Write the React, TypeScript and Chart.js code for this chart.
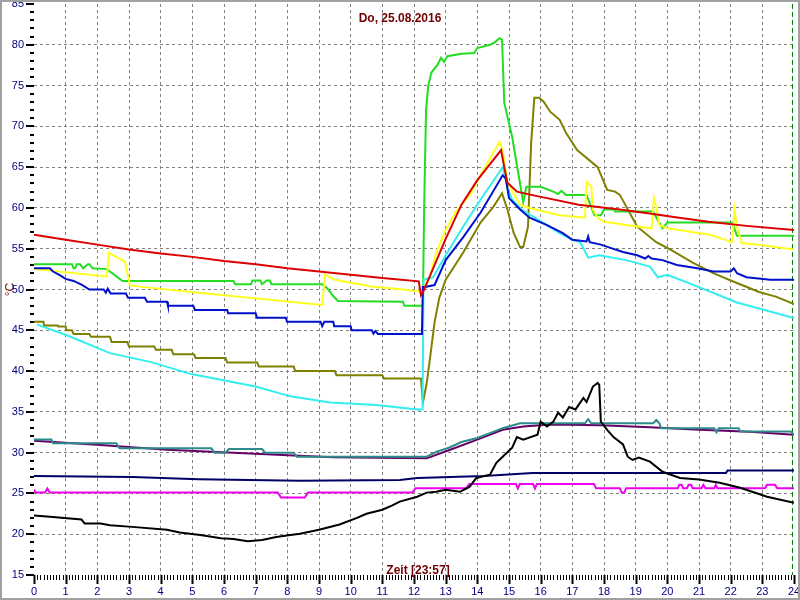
import React, { useEffect, useRef } from "react";
import { Chart, registerables } from "chart.js";

Chart.register(...registerables);

const TITLE = "Do, 25.08.2016";
const X_TITLE = "Zeit [23:57]";
const Y_TITLE = "°C";
const NOW_HOUR = 23.95;
const Y_MIN = 15;
const Y_MAX = 85;
const X_MIN = 0;
const X_MAX = 24;

// ---- series (hour of day, temperature °C) ----
const blackH = [0, 0.5, 1.5, 1.6, 2.1, 2.4, 3.1, 4.2, 4.6, 5.25, 5.9, 6.3, 6.75, 7.2, 7.65, 8.1, 8.4, 9.0, 9.65, 10.2, 10.5, 11.0, 11.3, 11.55, 12.1, 12.4, 12.7, 13.0, 13.45, 13.75, 13.97, 14.4, 14.6, 14.8, 15.1, 15.25, 15.45, 15.9, 16.0, 16.2, 16.4, 16.55, 16.7, 16.9, 17.1, 17.35, 17.45, 17.65, 17.8, 17.85, 17.9, 18.1, 18.3, 18.6, 18.75, 18.9, 19.1, 19.45, 19.85, 20.4, 21.0, 21.65, 22.3, 23.15, 24];
const blackT = [22.3, 22.15, 21.8, 21.3, 21.3, 21.1, 20.9, 20.55, 20.2, 19.9, 19.5, 19.4, 19.15, 19.3, 19.65, 19.9, 20.05, 20.55, 21.2, 22.0, 22.5, 23.0, 23.5, 24.0, 24.6, 25.1, 25.2, 25.45, 25.2, 25.8, 26.9, 27.3, 28.75, 29.5, 30.6, 31.9, 31.6, 32.2, 33.8, 33.2, 33.8, 34.9, 34.3, 35.6, 35.3, 36.7, 36.2, 38.1, 38.55, 38.3, 33.8, 32.8, 31.9, 31.0, 29.5, 29.1, 29.4, 28.9, 27.65, 26.9, 26.7, 26.3, 25.7, 24.6, 23.85];

const magentaH = [0, 0.05, 0.35, 0.42, 0.5, 7.7, 7.8, 8.55, 8.65, 11.95, 12.05, 13.65, 13.75, 15.22, 15.28, 15.34, 15.76, 15.82, 15.88, 17.68, 17.75, 18.5, 18.56, 18.64, 18.7, 20.33, 20.38, 20.45, 20.5, 20.62, 20.67, 20.75, 20.8, 21.08, 21.14, 21.2, 21.48, 21.53, 21.58, 23.08, 23.15, 23.4, 23.47, 24];
const magentaT = [25.5, 25.1, 25.1, 25.6, 25.1, 25.1, 24.5, 24.5, 25.1, 25.1, 25.65, 25.65, 26.15, 26.15, 25.6, 26.15, 26.15, 25.6, 26.15, 26.15, 25.65, 25.65, 25.1, 25.1, 25.65, 25.65, 26.05, 26.05, 25.65, 25.65, 26.05, 26.05, 25.65, 25.65, 26.05, 25.65, 25.65, 26.05, 25.65, 25.65, 26.05, 26.05, 25.65, 25.65];

const navyH = [0, 3.1, 5.2, 8.4, 11.55, 12.1, 14.2, 15.75, 21.85, 21.9, 24];
const navyT = [27.15, 27.0, 26.75, 26.55, 26.65, 26.9, 27.15, 27.5, 27.5, 27.8, 27.8];

const purpleH = [0, 2.1, 4.2, 6.3, 7.85, 9.45, 12.4, 13.1, 14.0, 14.8, 15.45, 16.3, 17.9, 19.45, 21.0, 22.6, 24];
const purpleT = [31.45, 30.95, 30.35, 30.0, 29.7, 29.45, 29.3, 30.3, 31.6, 32.8, 33.2, 33.45, 33.35, 33.1, 32.8, 32.55, 32.2];

const tealH = [0, 0.55, 0.6, 2.6, 2.7, 5.6, 5.7, 6.05, 6.15, 7.2, 7.3, 8.2, 8.3, 12.4, 12.7, 13.1, 13.5, 14.0, 14.4, 14.8, 15.35, 17.4, 17.5, 17.6, 19.55, 19.65, 19.75, 19.8, 21.48, 21.55, 21.62, 22.25, 22.3, 23.9, 24];
const tealT = [31.6, 31.6, 31.15, 31.15, 30.55, 30.55, 30.0, 30.0, 30.45, 30.45, 30.0, 30.0, 29.5, 29.5, 30.1, 30.6, 31.3, 31.8, 32.4, 33.0, 33.6, 33.6, 34.1, 33.6, 33.6, 34.0, 33.6, 33.0, 33.0, 32.5, 33.0, 33.0, 32.6, 32.6, 32.2];

const oliveH = [0, 0.3, 0.32, 0.75, 0.77, 1.0, 1.02, 1.2, 1.25, 1.75, 1.8, 2.4, 2.45, 2.95, 3.0, 3.8, 3.85, 4.35, 4.4, 5.05, 5.1, 6.05, 6.1, 7.05, 7.1, 8.2, 8.25, 9.5, 9.55, 11.0, 11.05, 12.22, 12.28, 12.4, 12.5, 12.65, 12.8, 13.0, 13.55, 14.1, 14.5, 14.78, 14.95, 15.15, 15.35, 15.45, 15.6, 15.7, 15.8, 15.95, 16.1, 16.3, 16.6, 16.8, 16.9, 17.15, 17.8, 18.1, 18.35, 18.5, 19.05, 19.65, 20.1, 20.8, 21.45, 22.1, 22.9, 23.45, 24];
const oliveT = [46.05, 46.05, 45.6, 45.6, 45.45, 45.45, 45.0, 45.0, 44.55, 44.55, 44.2, 44.2, 43.55, 43.55, 43.0, 43.0, 42.6, 42.6, 42.05, 42.05, 41.6, 41.6, 41.05, 41.05, 40.55, 40.55, 40.0, 40.0, 39.5, 39.5, 39.1, 39.1, 36.1, 38.5, 41.4, 46.0, 49.0, 51.2, 54.5, 58.2, 60.1, 61.8, 59.8, 56.9, 55.2, 55.2, 57.7, 68.0, 73.5, 73.5, 73.0, 71.8, 70.8, 69.2, 68.6, 67.1, 65.0, 62.2, 62.0, 61.6, 57.7, 55.8, 54.9, 53.3, 52.0, 50.95, 49.7, 49.1, 48.2];

const cyanH = [0.1, 1.0, 2.4, 3.7, 5.0, 7.0, 8.1, 9.35, 10.8, 12.2, 12.27, 12.3, 12.6, 13.05, 13.55, 14.1, 14.8, 14.97, 15.1, 15.4, 16.2, 16.6, 17.0, 17.25, 17.5, 17.85, 18.7, 19.45, 19.7, 20.0, 20.8, 22.2, 24];
const cyanT = [45.7, 44.45, 42.2, 41.1, 39.6, 38.1, 36.9, 36.15, 35.85, 35.25, 35.3, 51.2, 51.5, 54.5, 57.7, 61.0, 65.0, 62.2, 61.0, 59.8, 57.9, 56.9, 56.1, 55.8, 53.9, 54.2, 53.6, 52.8, 51.5, 51.8, 50.6, 48.4, 46.5];

const blueH = [0, 0.5, 0.6, 0.8, 1.0, 1.25, 1.5, 1.75, 2.2, 2.27, 2.33, 2.42, 2.9, 2.97, 3.5, 3.57, 4.2, 4.23, 5.03, 5.08, 6.1, 6.13, 7.0, 7.04, 7.95, 7.99, 9.05, 9.1, 9.17, 9.45, 9.48, 10.0, 10.03, 10.67, 10.72, 10.78, 10.86, 12.25, 12.28, 12.35, 12.65, 13.0, 13.55, 14.1, 14.8, 14.9, 15.0, 15.35, 15.65, 16.2, 16.7, 17.0, 17.45, 17.5, 17.55, 17.9, 18.2, 18.6, 19.05, 19.3, 19.4, 19.5, 19.85, 20.3, 20.95, 21.45, 22.0, 22.1, 22.2, 22.5, 23.25, 24];
const blueT = [52.6, 52.6, 52.2, 51.8, 51.3, 51.05, 50.6, 50.0, 50.0, 49.6, 50.1, 49.5, 49.5, 49.0, 49.0, 48.5, 48.5, 48.0, 48.0, 47.5, 47.5, 47.1, 47.1, 46.55, 46.55, 46.05, 46.05, 45.5, 46.05, 46.05, 45.5, 45.5, 45.0, 45.0, 44.6, 44.9, 44.55, 44.55, 50.3, 50.3, 50.55, 53.6, 56.4, 59.4, 64.0, 63.6, 61.2, 59.8, 58.8, 57.9, 56.9, 56.1, 55.9, 56.5, 55.8, 55.5, 55.1, 54.6, 54.2, 53.8, 54.1, 53.8, 53.6, 53.0, 52.6, 52.2, 52.2, 52.6, 52.0, 51.5, 51.2, 51.2];

const yellowH = [0, 2.3, 2.37, 2.87, 3.03, 3.7, 5.2, 9.1, 9.2, 9.5, 10.7, 11.65, 12.2, 12.3, 12.5, 12.7, 13.0, 13.3, 13.8, 14.2, 14.7, 14.8, 14.95, 15.35, 15.65, 16.6, 17.4, 17.45, 17.6, 17.65, 17.8, 18.0, 18.7, 19.5, 19.58, 19.68, 19.75, 20.0, 21.35, 22.05, 22.12, 22.2, 22.35, 22.9, 24];
const yellowT = [52.5, 51.6, 54.5, 53.4, 50.5, 50.2, 49.6, 48.1, 51.8, 51.2, 50.35, 50.0, 49.75, 50.3, 51.5, 54.5, 57.3, 59.4, 61.8, 64.7, 68.1, 67.1, 63.1, 60.4, 60.0, 59.1, 58.8, 63.2, 62.6, 59.8, 58.8, 58.3, 57.9, 57.5, 61.2, 59.5, 57.9, 57.5, 56.7, 55.8, 59.8, 57.7, 55.7, 55.5, 54.9];

const greenH = [0, 1.2, 1.25, 1.3, 1.35, 1.45, 1.55, 1.7, 1.75, 1.85, 2.3, 2.8, 6.3, 6.35, 6.85, 6.9, 7.15, 7.2, 7.35, 7.45, 7.5, 9.1, 9.25, 9.45, 9.6, 11.65, 11.7, 12.25, 12.28, 12.32, 12.38, 12.45, 12.55, 12.75, 12.85, 12.95, 13.05, 13.5, 13.9, 14.0, 14.4, 14.55, 14.7, 14.78, 14.85, 15.1, 15.4, 15.45, 15.55, 16.0, 16.4, 16.55, 16.65, 16.8, 17.45, 17.55, 17.7, 17.9, 18.0, 18.3, 18.35, 19.55, 19.7, 19.85, 20.0, 22.05, 22.2, 24];
const greenT = [53.1, 53.1, 52.6, 52.6, 53.1, 53.1, 52.6, 53.1, 53.1, 52.6, 52.5, 51.05, 51.05, 50.65, 50.65, 51.1, 51.1, 50.65, 51.1, 51.1, 50.65, 50.65, 50.2, 49.2, 48.6, 48.5, 48.0, 48.0, 48.0, 60.0, 72.0, 75.0, 76.6, 77.6, 78.4, 77.9, 78.6, 78.9, 79.0, 79.6, 80.0, 80.3, 80.8, 80.6, 72.9, 68.7, 61.8, 60.7, 62.6, 62.6, 62.0, 61.7, 62.1, 61.6, 61.6, 60.6, 59.1, 59.1, 59.8, 59.8, 59.55, 59.55, 58.5, 57.5, 58.2, 58.2, 56.6, 56.6];

const redH = [0, 1, 2, 3, 4, 5, 6, 7, 8, 9, 10, 11, 12.15, 12.22, 12.3, 13.0, 13.5, 14.0, 14.75, 14.85, 14.95, 15.25, 15.7, 16.2, 17.2, 18.5, 19.5, 20.2, 21.3, 22.5, 24];
const redT = [56.7, 56.1, 55.5, 54.9, 54.4, 54.0, 53.5, 53.1, 52.6, 52.2, 51.8, 51.4, 51.0, 49.3, 49.8, 56.2, 60.4, 63.4, 67.1, 65.0, 63.1, 62.0, 61.6, 61.2, 60.4, 59.8, 59.3, 58.9, 58.3, 57.8, 57.3];

// first entry is drawn on top
const SERIES = [
  { name: "black", h: blackH, t: blackT, color: "#000000" },
  { name: "magenta", h: magentaH, t: magentaT, color: "#ee00ee" },
  { name: "navy", h: navyH, t: navyT, color: "#000066" },
  { name: "teal", h: tealH, t: tealT, color: "#2e8b8b" },
  { name: "purple", h: purpleH, t: purpleT, color: "#660066" },
  { name: "red", h: redH, t: redT, color: "#dd0000" },
  { name: "blue", h: blueH, t: blueT, color: "#0010cc" },
  { name: "cyan", h: cyanH, t: cyanT, color: "#33eeee" },
  { name: "yellow", h: yellowH, t: yellowT, color: "#ffff20" },
  { name: "green", h: greenH, t: greenT, color: "#22dd22" },
  { name: "olive", h: oliveH, t: oliveT, color: "#808000" },
];

const FONT_FAMILY = '"Liberation Sans", Arial, sans-serif';

const decorPlugin = {
  id: "decor",
  beforeDraw(chart: any) {
    const { ctx, width, height } = chart;
    ctx.save();
    ctx.fillStyle = "#ffffff";
    ctx.fillRect(0, 0, width, height);
    ctx.restore();
  },
  beforeDatasetsDraw(chart: any) {
    const { ctx, chartArea, scales } = chart;
    const px = Math.round(scales.x.getPixelForValue(NOW_HOUR)) + 0.5;
    ctx.save();
    ctx.strokeStyle = "#008000";
    ctx.lineWidth = 1;
    ctx.setLineDash([5, 3]);
    ctx.beginPath();
    ctx.moveTo(px, chartArea.top);
    ctx.lineTo(px, chartArea.bottom);
    ctx.stroke();
    ctx.restore();
  },
  afterDraw(chart: any) {
    const { ctx, chartArea, scales, width, height } = chart;
    const xs = scales.x;
    const ys = scales.y;
    ctx.save();
    ctx.strokeStyle = "#000000";
    // y tick marks
    for (let v = Y_MIN; v <= Y_MAX; v++) {
      const py = Math.round(ys.getPixelForValue(v));
      const major = v % 5 === 0;
      ctx.lineWidth = 2;
      ctx.beginPath();
      ctx.moveTo(chartArea.left - (major ? 8 : 4), py);
      ctx.lineTo(chartArea.left, py);
      ctx.stroke();
    }
    // x tick marks
    for (let i = X_MIN * 10; i <= X_MAX * 10; i++) {
      const v = i / 10;
      const major = i % 10 === 0;
      const px = Math.round(xs.getPixelForValue(v)) + 0.5;
      ctx.lineWidth = major ? 2 : 1;
      ctx.beginPath();
      ctx.moveTo(px, chartArea.bottom);
      ctx.lineTo(px, chartArea.bottom + (major ? 9 : 5));
      ctx.stroke();
    }
    // titles
    ctx.fillStyle = "#700000";
    ctx.textAlign = "center";
    ctx.textBaseline = "alphabetic";
    ctx.font = "bold 12px " + FONT_FAMILY;
    ctx.fillText(TITLE, width / 2, 22);
    ctx.fillText(X_TITLE, 418, 574);
    // frame
    ctx.strokeStyle = "#a0a0a0";
    ctx.lineWidth = 2;
    ctx.strokeRect(1, 1, width - 2, height - 2);
    ctx.restore();
  },
};

export default function App() {
  const canvasRef = useRef<HTMLCanvasElement | null>(null);

  useEffect(() => {
    const canvas = canvasRef.current;
    if (!canvas) return;
    const datasets = SERIES.map((s) => ({
      label: s.name,
      data: s.h.map((x, i) => ({ x, y: s.t[i] })),
      borderColor: s.color,
      backgroundColor: s.color,
      borderWidth: 2,
      pointRadius: 0,
      tension: 0,
      fill: false,
    }));
    const chart = new Chart(canvas, {
      type: "line",
      data: { datasets },
      options: {
        responsive: false,
        devicePixelRatio: 1,
        animation: false,
        events: [],
        layout: { padding: { left: 0, top: 4, right: 6, bottom: 0 } },
        plugins: { legend: { display: false }, tooltip: { enabled: false }, title: { display: false } },
        scales: {
          x: {
            type: "linear",
            min: X_MIN,
            max: X_MAX,
            border: { display: false, dash: [3, 3] },
            grid: {
              drawTicks: false,
              color: (c: any) => (c.tick && (c.tick.value === X_MIN || c.tick.value === X_MAX) ? "rgba(0,0,0,0)" : "#808080"),
              lineWidth: 1,
            },
            ticks: {
              stepSize: 1,
              autoSkip: false,
              maxRotation: 0,
              padding: 10,
              color: "#000080",
              font: { family: FONT_FAMILY, size: 11 },
            },
            afterFit: (scale: any) => {
              scale.height = 25;
              scale.paddingLeft = 0;
              scale.paddingRight = 0;
            },
          },
          y: {
            type: "linear",
            min: Y_MIN,
            max: Y_MAX,
            border: { display: false, dash: [3, 3] },
            grid: {
              drawTicks: false,
              color: (c: any) => (c.tick && (c.tick.value === Y_MIN || c.tick.value === Y_MAX) ? "rgba(0,0,0,0)" : "#808080"),
              lineWidth: 1,
            },
            ticks: {
              stepSize: 5,
              autoSkip: false,
              padding: 10,
              color: "#000080",
              font: { family: FONT_FAMILY, size: 11 },
            },
            title: {
              display: true,
              text: Y_TITLE,
              color: "#800000",
              font: { family: FONT_FAMILY, size: 12 },
              padding: { top: 3, bottom: 0 },
            },
            afterFit: (scale: any) => {
              scale.width = 34;
              scale.paddingTop = 0;
              scale.paddingBottom = 0;
            },
          },
        },
      },
      plugins: [decorPlugin],
    });
    return () => chart.destroy();
  }, []);

  return (
    <div style={{ position: "absolute", left: 0, top: 0, width: 800, height: 600 }}>
      <canvas ref={canvasRef} width={800} height={600} style={{ display: "block" }} />
    </div>
  );
}
